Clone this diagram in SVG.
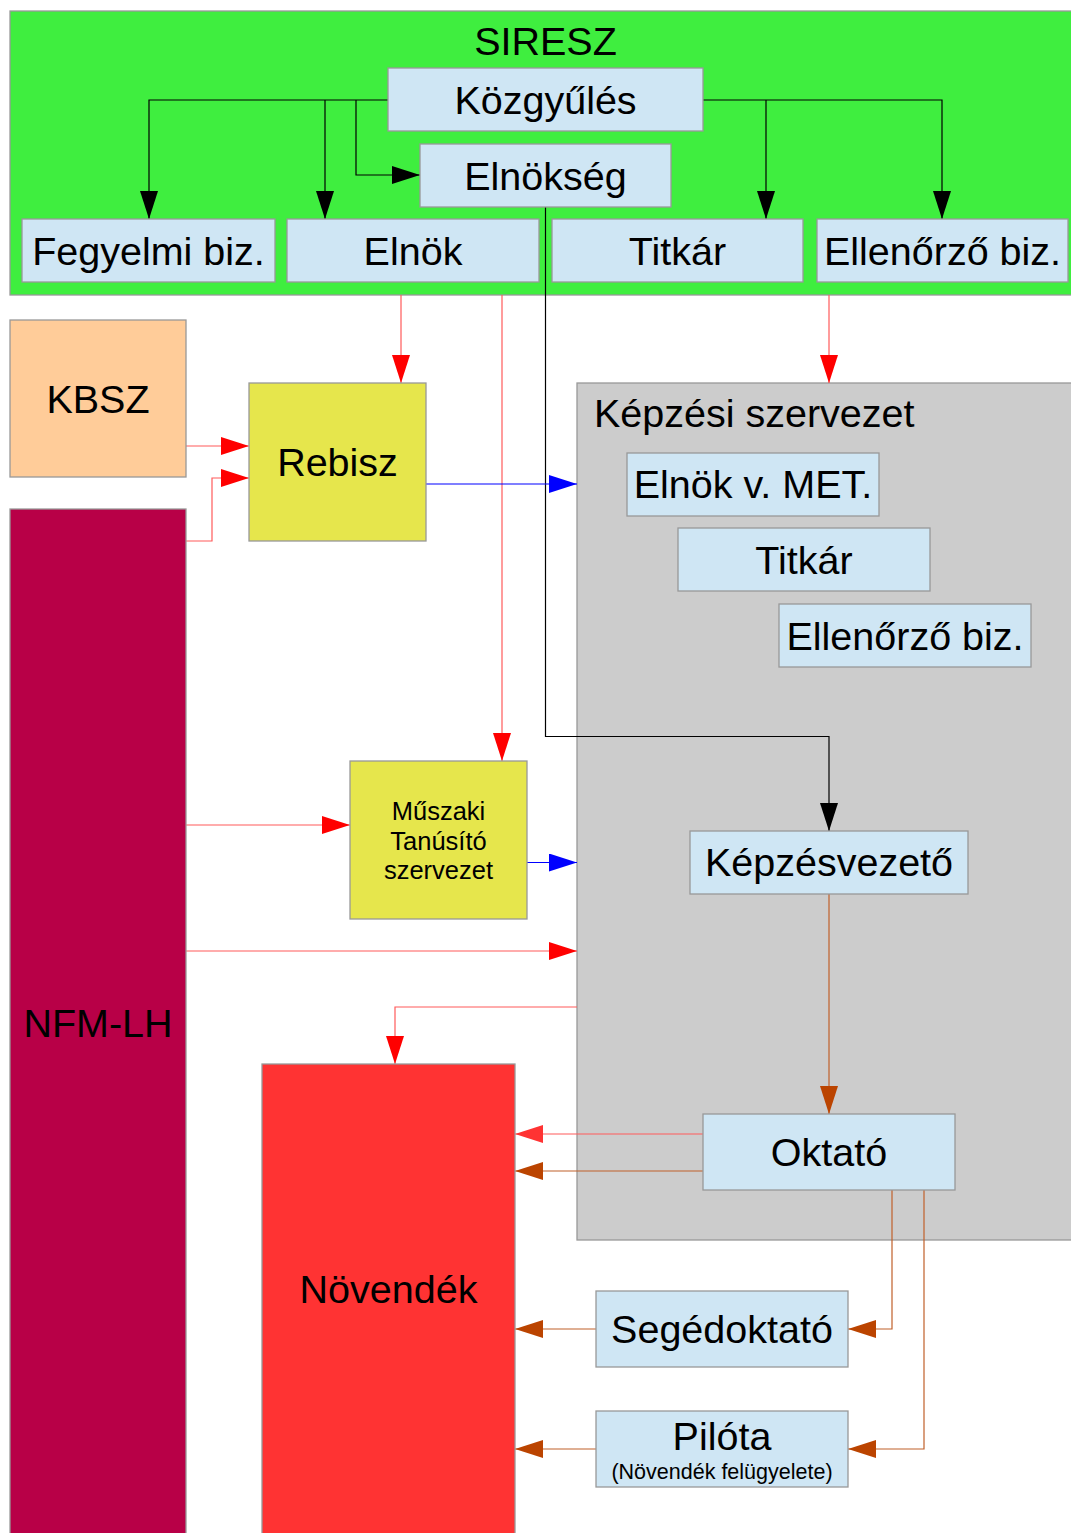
<svg xmlns="http://www.w3.org/2000/svg" width="1071" height="1533" viewBox="0 0 1071 1533">
<style>
text{font-family:"Liberation Sans",Arial,sans-serif;font-size:39.5px;fill:#000;text-anchor:middle}
.small{font-size:25.5px}
.tiny{font-size:21.5px}
.box{stroke:#999;stroke-width:1.3}
.lb{fill:#cfe6f4}
.c{fill:none;stroke-width:1.2}
.k{stroke:#000}
.r{stroke:#ff5a5a}
.b{stroke:#0000ff}
.o{stroke:#c0602a}
</style>
<defs>
<marker id="ak" viewBox="0 0 28 18" markerUnits="userSpaceOnUse" markerWidth="28" markerHeight="18" refX="28" refY="9" orient="auto"><path d="M0,0L28,9L0,18z" fill="#000"/></marker>
<marker id="ar" viewBox="0 0 28 18" markerUnits="userSpaceOnUse" markerWidth="28" markerHeight="18" refX="28" refY="9" orient="auto"><path d="M0,0L28,9L0,18z" fill="#ff0000"/></marker>
<marker id="ar2" viewBox="0 0 28 18" markerUnits="userSpaceOnUse" markerWidth="28" markerHeight="18" refX="28" refY="9" orient="auto"><path d="M0,0L28,9L0,18z" fill="#ff3333"/></marker>
<marker id="ab" viewBox="0 0 28 18" markerUnits="userSpaceOnUse" markerWidth="28" markerHeight="18" refX="28" refY="9" orient="auto"><path d="M0,0L28,9L0,18z" fill="#0000ff"/></marker>
<marker id="ao" viewBox="0 0 28 18" markerUnits="userSpaceOnUse" markerWidth="28" markerHeight="18" refX="28" refY="9" orient="auto"><path d="M0,0L28,9L0,18z" fill="#bb4400"/></marker>
</defs>
<rect width="1071" height="1533" fill="#fff"/>

<g id="siresz"><rect class="box" x="10" y="11" width="1070" height="284" fill="#3fee3f"/><text x="545.5" y="55">SIRESZ</text></g>
<g id="kepzesi"><rect class="box" x="577" y="383" width="503" height="857" fill="#cccccc"/><text x="594" y="427" style="text-anchor:start">Képzési szervezet</text></g>

<g id="connectors">
<path class="c k" d="M388,100H149V219" marker-end="url(#ak)"/>
<path class="c k" d="M325,100V219" marker-end="url(#ak)"/>
<path class="c k" d="M356,100V175H420" marker-end="url(#ak)"/>
<path class="c k" d="M703,100H942V219" marker-end="url(#ak)"/>
<path class="c k" d="M766,100V219" marker-end="url(#ak)"/>
<path class="c k" d="M545.5,207V736.5H829V831" marker-end="url(#ak)"/>
<path class="c r" d="M401,295V383" marker-end="url(#ar)"/>
<path class="c r" d="M502,295V761" marker-end="url(#ar)"/>
<path class="c r" d="M829,295V383" marker-end="url(#ar)"/>
<path class="c r" d="M186,446H249" marker-end="url(#ar)"/>
<path class="c r" d="M186,541H212V478H249" marker-end="url(#ar)"/>
<path class="c r" d="M186,825H350" marker-end="url(#ar)"/>
<path class="c r" d="M186,951H577" marker-end="url(#ar)"/>
<path class="c r" d="M577,1007H395V1064" marker-end="url(#ar)"/>
<path class="c b" d="M426,484H577" marker-end="url(#ab)"/>
<path class="c b" d="M527,862.5H577" marker-end="url(#ab)"/>
<path class="c o" d="M829,894V1114" marker-end="url(#ao)"/>
<path class="c r" d="M703,1134H515" marker-end="url(#ar2)"/>
<path class="c o" d="M703,1171H515" marker-end="url(#ao)"/>
<path class="c o" d="M892,1190V1329H848" marker-end="url(#ao)"/>
<path class="c o" d="M924,1190V1449H848" marker-end="url(#ao)"/>
<path class="c o" d="M596,1329H515" marker-end="url(#ao)"/>
<path class="c o" d="M596,1449H515" marker-end="url(#ao)"/>
</g>

<g id="kozgyules"><rect class="box lb" x="388" y="68" width="315" height="63"/><text x="545.5" y="114">Közgyűlés</text></g>
<g id="elnokseg"><rect class="box lb" x="420" y="144" width="251" height="63"/><text x="545.5" y="190">Elnökség</text></g>
<g id="fegyelmi"><rect class="box lb" x="22" y="219" width="253" height="63"/><text x="148.5" y="265">Fegyelmi biz.</text></g>
<g id="elnok"><rect class="box lb" x="287" y="219" width="252" height="63"/><text x="413" y="265">Elnök</text></g>
<g id="titkar"><rect class="box lb" x="552" y="219" width="251" height="63"/><text x="677.5" y="265">Titkár</text></g>
<g id="ellenorzo"><rect class="box lb" x="817" y="219" width="251" height="63"/><text x="942.5" y="265">Ellenőrző biz.</text></g>

<g id="kbsz"><rect class="box" x="10" y="320" width="176" height="157" fill="#ffcc99"/><text x="98" y="413">KBSZ</text></g>
<g id="rebisz"><rect class="box" x="249" y="383" width="177" height="158" fill="#e6e64c"/><text x="337.5" y="476">Rebisz</text></g>
<g id="nfmlh"><rect class="box" x="10" y="509" width="176" height="1030" fill="#b80047"/><text x="98" y="1037">NFM-LH</text></g>

<g id="elnokmet"><rect class="box lb" x="627" y="453" width="252" height="63"/><text x="753" y="498">Elnök v. MET.</text></g>
<g id="titkar2"><rect class="box lb" x="678" y="528" width="252" height="63"/><text x="804" y="574">Titkár</text></g>
<g id="ellenorzo2"><rect class="box lb" x="779" y="604" width="252" height="63"/><text x="905" y="650">Ellenőrző biz.</text></g>

<g id="muszaki"><rect class="box" x="350" y="761" width="177" height="158" fill="#e6e64c"/><text class="small" x="438.5" y="820">Műszaki</text><text class="small" x="438.5" y="850">Tanúsító</text><text class="small" x="438.5" y="879">szervezet</text></g>
<g id="kepzesvezeto"><rect class="box lb" x="690" y="831" width="278" height="63"/><text x="829" y="876">Képzésvezető</text></g>
<g id="novendek"><rect class="box" x="262" y="1064" width="253" height="475" fill="#ff3333"/><text x="388.5" y="1303">Növendék</text></g>
<g id="oktato"><rect class="box lb" x="703" y="1114" width="252" height="76"/><text x="829" y="1166">Oktató</text></g>
<g id="segedoktato"><rect class="box lb" x="596" y="1291" width="252" height="76"/><text x="722" y="1343">Segédoktató</text></g>
<g id="pilota"><rect class="box lb" x="596" y="1411" width="252" height="76"/><text x="722" y="1450">Pilóta</text><text class="tiny" x="722" y="1479">(Növendék felügyelete)</text></g>
</svg>
